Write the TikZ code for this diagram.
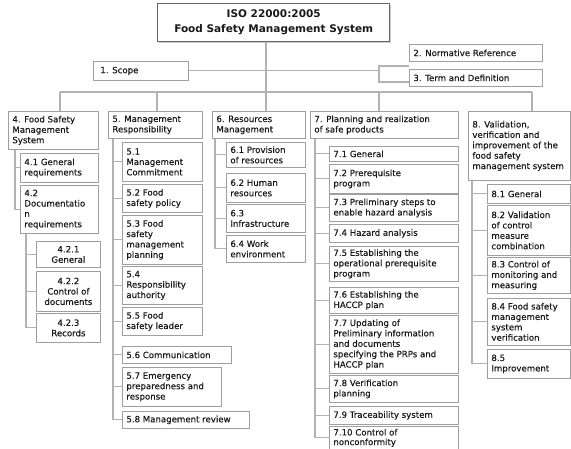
\documentclass[tikz,border=0pt]{standalone}
\usepackage{fontspec}
\setmainfont{DejaVu Sans}[UprightFeatures={FakeBold=0.35}]
\usetikzlibrary{calc,shadows}
\tikzset{
  box/.style={draw=gray!75, line width=0.8pt, fill=white, inner xsep=4pt, inner ysep=2pt,
    anchor=north west, text=black!90, font=\fontsize{8.6}{10.4}\selectfont,
    drop shadow={shadow xshift=1pt, shadow yshift=-1pt, fill=gray!40, opacity=1}},
  titlebox/.style={box, draw=gray!80!black, line width=1.4pt},
  conn/.style={draw=gray!60, line width=1.1pt},
}
\newcommand\bx[7]{%
  \pgfmathsetmacro\bw{#4-#2}%
  \pgfmathsetmacro\bh{#5-#3}%
  \pgfmathsetmacro\tw{#4-#2-8}%
  \pgfmathsetmacro\th{#5-#3-4}%
  \node[box, minimum width=\bw pt, minimum height=\bh pt] (#1) at (#2,#3)
    {\parbox[c][\th pt][c]{\tw pt}{#6#7}};}
\begin{document}
\begin{tikzpicture}[x=1pt,y=-1pt]
\useasboundingbox (0,0) rectangle (571,448);
% title
\node[titlebox, minimum width=232pt, minimum height=38pt] (title) at (157,3)
  {\parbox[c][34pt][c]{224pt}{\centering\fontsize{10.5}{15}\selectfont\bfseries ISO 22000:2005\\Food Safety Management System}};
% first level
\bx{scope}{93}{61}{188}{80}{\raggedright}{\hspace*{3pt}1. Scope}
\bx{norm}{409}{44}{542}{61}{\raggedright}{2. Normative Reference}
\bx{term}{409}{69}{542}{86}{\raggedright}{3. Term and Definition}
\bx{b4}{8}{111}{98}{149}{\raggedright}{4. Food Safety\\Management\\System}
\bx{b5}{108}{111}{202}{138}{\raggedright}{5. Management\\Responsibility}
\bx{b6}{212}{111}{305}{138}{\raggedright}{6. Resources\\Management}
\bx{b7}{310}{111}{458}{138}{\raggedright}{7. Planning and realization\\of safe products}
\bx{b8}{468}{111}{570}{180}{\raggedright}{8. Validation,\\verification and\\improvement of the\\food safety\\management system}
% section 4
\bx{b41}{20}{153}{98}{182}{\raggedright}{4.1 General\\requirements}
\bx{b42}{20}{185}{98}{233}{\raggedright}{4.2\\Documentatio\\n\\requirements}
\bx{b421}{36}{241}{100}{267}{\centering}{4.2.1\\General}
\bx{b422}{36}{271}{100}{311}{\centering}{4.2.2\\Control of\\documents}
\bx{b423}{36}{313}{100}{342}{\centering}{4.2.3\\Records}
% section 5
\bx{b51}{122}{142}{202}{181}{\raggedright}{5.1\\Management\\Commitment}
\bx{b52}{122}{184}{202}{212}{\raggedright}{5.2 Food\\safety policy}
\bx{b53}{122}{215}{202}{264}{\raggedright}{5.3 Food\\safety\\management\\planning}
\bx{b54}{122}{266}{202}{304}{\raggedright}{5.4\\Responsibility\\authority}
\bx{b55}{122}{307}{202}{335}{\raggedright}{5.5 Food\\safety leader}
\bx{b56}{122}{346}{231}{363}{\raggedright}{5.6 Communication}
\bx{b57}{122}{367}{221}{406}{\raggedright}{5.7 Emergency\\preparedness and\\response}
\bx{b58}{122}{411}{249}{428}{\raggedright}{5.8 Management review}
% section 6
\bx{b61}{226}{142}{305}{167}{\raggedright}{6.1 Provision\\of resources}
\bx{b62}{226}{173}{305}{202}{\raggedright}{6.2 Human\\resources}
\bx{b63}{226}{204}{305}{232}{\raggedright}{6.3\\Infrastructure}
\bx{b64}{226}{235}{305}{262}{\raggedright}{6.4 Work\\environment}
% section 7
\bx{b71}{329}{146}{458}{161}{\raggedright}{7.1 General}
\bx{b72}{329}{164}{458}{193}{\raggedright}{7.2 Prerequisite\\program}
\bx{b73}{329}{194}{458}{221}{\raggedright}{7.3 Preliminary steps to\\enable hazard analysis}
\bx{b74}{329}{224}{458}{242}{\raggedright}{7.4 Hazard analysis}
\bx{b75}{329}{246}{458}{281}{\raggedright}{7.5 Establishing the\\operational prerequisite\\program}
\bx{b76}{329}{287}{458}{313}{\raggedright}{7.6 Establishing the\\HACCP plan}
\bx{b77}{329}{315}{458}{373}{\raggedright}{7.7 Updating of\\Preliminary information\\and documents\\specifying the PRPs and\\HACCP plan}
\bx{b78}{329}{375}{458}{402}{\raggedright}{7.8 Verification\\planning}
\bx{b79}{329}{406}{458}{424}{\raggedright}{7.9 Traceability system}
\bx{b710}{329}{426}{458}{449}{\raggedright}{\fontsize{8.6}{9.6}\selectfont 7.10 Control of\\nonconformity}
% section 8
\bx{b81}{487}{184}{570}{203}{\raggedright}{8.1 General}
\bx{b82}{487}{205}{570}{255}{\raggedright}{8.2 Validation\\of control\\measure\\combination}
\bx{b83}{487}{257}{570}{293}{\raggedright}{8.3 Control of\\monitoring and\\measuring}
\bx{b84}{487}{298}{570}{345}{\raggedright}{8.4 Food safety\\management\\system\\verification}
\bx{b85}{487}{349}{570}{378}{\raggedright}{8.5\\Improvement}
% bus and drops
\coordinate (j4) at (60,92);
\coordinate (j5) at (157,92);
\coordinate (j6) at (266,92);
\coordinate (j7) at (379,92);
\coordinate (j8) at (532,92);
\draw[conn] (j4) -- (j8);
\draw[conn] (title.south -| j6) -- (b6.north -| j6);
\foreach \k in {4,5,7,8} \draw[conn] (j\k) -- (b\k.north -| j\k);
% scope / normative / term
\coordinate (sj) at (379,66);
\coordinate (sk) at (379,82);
\draw[conn] (scope.east) -- (scope.east -| sj);
\draw[conn] (sj -| norm.west) -- (sj) -- (sk) -- (term.west |- sk);
% trees
\coordinate (v4) at ($(b4.south west)+(7,0)$);
\foreach \c in {41,42} \draw[conn] (v4) |- (b\c.west);
\coordinate (v42) at ($(b42.south west)+(6,0)$);
\foreach \c in {421,422,423} \draw[conn] (v42) |- (b\c.west);
\coordinate (v5) at ($(b5.south west)+(5,0)$);
\foreach \c in {51,52,53,54,55,56,57,58} \draw[conn] (v5) |- (b\c.west);
\coordinate (v6) at ($(b6.south west)+(3,0)$);
\foreach \c in {61,62,63,64} \draw[conn] (v6) |- (b\c.west);
\coordinate (v7) at ($(b7.south west)+(5,0)$);
\foreach \c in {71,72,73,74,75,76,77,78,79,710} \draw[conn] (v7) |- (b\c.west);
\coordinate (v8) at ($(b8.south west)+(4,0)$);
\foreach \c in {81,82,83,84,85} \draw[conn] (v8) |- (b\c.west);
\end{tikzpicture}
\end{document}
